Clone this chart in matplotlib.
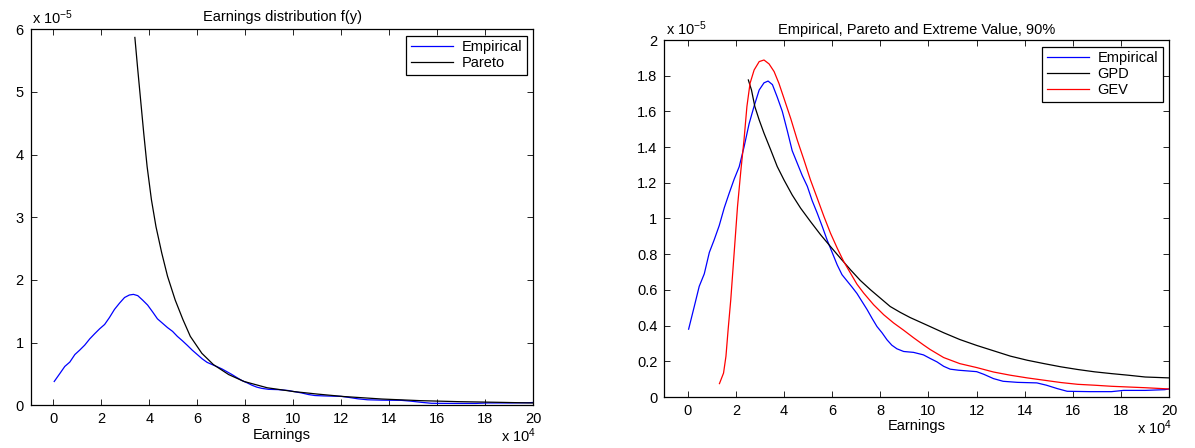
import numpy as np
import matplotlib
matplotlib.use("Agg")
import matplotlib.pyplot as plt
from matplotlib.ticker import FuncFormatter

plt.rcParams['font.family'] = ['Liberation Sans', 'DejaVu Sans']
plt.rcParams['mathtext.fontset'] = 'custom'
plt.rcParams['mathtext.rm'] = 'Liberation Sans'
plt.rcParams['mathtext.it'] = 'Liberation Sans:italic'

# x in units of 1e4, y in units of 1e-5
emp_x = [0.04, 0.28, 0.48, 0.69, 0.9, 1.1, 1.31, 1.52, 1.72, 1.93, 2.14, 2.34, 2.55,
         2.76, 2.97, 3.17, 3.34, 3.52, 3.72, 3.93, 4.14, 4.34, 4.55, 4.76, 4.97, 5.17,
         5.38, 5.59, 5.79, 6.0, 6.21, 6.41, 6.62, 6.83, 7.03, 7.24, 7.45, 7.66, 7.86,
         8.07, 8.28, 8.48, 8.69, 8.97, 9.38, 9.79, 10.07, 10.35, 10.63, 10.9, 11.25,
         12.0, 12.3, 12.7, 13.1, 13.7, 14.5, 14.9, 15.35, 15.76, 16.7, 17.6, 18.1,
         19.0, 19.8, 20.0]
emp_y = [0.38, 0.51, 0.62, 0.69, 0.81, 0.88, 0.96, 1.06, 1.14, 1.22, 1.29, 1.40, 1.53,
         1.63, 1.72, 1.76, 1.77, 1.75, 1.68, 1.60, 1.49, 1.38, 1.31, 1.24, 1.18, 1.10,
         1.03, 0.955, 0.88, 0.81, 0.74, 0.685, 0.65, 0.615, 0.58, 0.535, 0.49, 0.44,
         0.395, 0.36, 0.32, 0.29, 0.27, 0.255, 0.25, 0.236, 0.216, 0.197, 0.172, 0.156,
         0.15, 0.142, 0.127, 0.103, 0.088, 0.082, 0.079, 0.066, 0.047, 0.032, 0.03,
         0.03, 0.037, 0.037, 0.041, 0.045]

pareto_x = [3.40, 3.51, 3.64, 3.77, 3.91, 4.09, 4.28, 4.52, 4.76, 5.08, 5.4, 5.71,
            6.19, 6.67, 7.31, 7.95, 8.91, 10.0, 10.98, 12.1, 13.7, 15.3, 16.9, 18.5, 20.0]
pareto_y = [5.87, 5.40, 4.87, 4.34, 3.81, 3.28, 2.85, 2.43, 2.06, 1.68, 1.37, 1.10,
            0.83, 0.65, 0.49, 0.38, 0.28, 0.22, 0.18, 0.14, 0.10, 0.074, 0.058, 0.048,
            0.037]

gpd_x = [2.52, 2.65, 2.79, 2.97, 3.17, 3.45, 3.72, 4.0, 4.34, 4.69, 5.1, 5.52, 5.93,
         6.34, 6.76, 7.17, 7.59, 8.0, 8.41, 8.83, 9.24, 9.93, 10.63, 11.3, 12.0, 12.7,
         13.4, 14.1, 14.8, 15.5, 16.2, 16.9, 17.6, 18.3, 19.0, 20.0]
gpd_y = [1.776, 1.72, 1.627, 1.552, 1.478, 1.384, 1.291, 1.216, 1.132, 1.058, 0.983,
         0.909, 0.843, 0.778, 0.713, 0.653, 0.601, 0.554, 0.507, 0.474, 0.445, 0.403,
         0.36, 0.322, 0.289, 0.259, 0.229, 0.206, 0.187, 0.169, 0.154, 0.141, 0.131,
         0.122, 0.112, 0.107]

gev_x = [1.32, 1.49, 1.59, 1.68, 1.79, 1.93, 2.07, 2.21, 2.34, 2.46, 2.59, 2.76, 2.97,
         3.17, 3.38, 3.59, 3.79, 4.0, 4.28, 4.55, 4.83, 5.1, 5.38, 5.66, 5.93, 6.21,
         6.48, 6.76, 7.03, 7.31, 7.72, 8.14, 8.55, 8.97, 9.38, 9.79, 10.07, 10.63,
         11.3, 12.0, 12.7, 13.4, 14.1, 14.8, 15.5, 16.2, 16.9, 17.6, 18.3, 19.0, 20.0]
gev_y = [0.075, 0.134, 0.228, 0.377, 0.545, 0.806, 1.067, 1.27, 1.44, 1.627, 1.757,
         1.832, 1.879, 1.888, 1.866, 1.823, 1.757, 1.673, 1.56, 1.44, 1.328, 1.216,
         1.114, 1.011, 0.918, 0.834, 0.759, 0.694, 0.632, 0.582, 0.517, 0.461, 0.415,
         0.374, 0.332, 0.292, 0.266, 0.221, 0.187, 0.165, 0.14, 0.122, 0.107, 0.094,
         0.081, 0.071, 0.066, 0.06, 0.056, 0.052, 0.045]

fs = 10.5
W, H = 1195, 448
fig = plt.figure(figsize=(W / 100, H / 100), dpi=100)

ax1 = fig.add_axes([30.7 / W, (H - 405.3) / H, 502.6 / W, 376 / H])
ax2 = fig.add_axes([664.3 / W, (H - 397) / H, 505 / W, 357 / H])

fmt = FuncFormatter(lambda v, p: '%g' % round(v, 6))


def style(ax, xmin, ylim, yticks, exp_y):
    ax.set_xlim(xmin, 20)
    ax.set_ylim(*ylim)
    ax.set_xticks(np.arange(0, 21, 2))
    ax.set_yticks(yticks)
    ax.yaxis.set_major_formatter(fmt)
    ax.tick_params(direction='in', top=True, right=True, length=4, width=0.6,
                   labelsize=fs, pad=5)
    for s in ax.spines.values():
        s.set_linewidth(0.9)
    ax.set_xlabel('Earnings', fontsize=fs, labelpad=1)
    ax.text(0.003, 1.005, r'x 10$^{-5}$', transform=ax.transAxes, fontsize=fs,
            ha='left', va='bottom')
    ax.text(1.005, exp_y, r'x 10$^{4}$', transform=ax.transAxes, fontsize=fs,
            ha='right', va='center')


def add_legend(ax):
    leg = ax.legend(loc='upper right', fontsize=fs, fancybox=False, framealpha=1,
                    edgecolor='black', handlelength=2.9, borderaxespad=0.45,
                    handletextpad=0.6, borderpad=0.3, labelspacing=0.15)
    leg.get_frame().set_linewidth(0.9)


# left panel
ax1.plot(emp_x, emp_y, color='blue', lw=0.9, label='Empirical')
ax1.plot(pareto_x, pareto_y, color='black', lw=0.9, label='Pareto')
style(ax1, -0.94, (0, 6), np.arange(0, 7, 1), -0.082)
ax1.set_title('Earnings distribution f(y)', fontsize=fs, pad=6)
add_legend(ax1)

# right panel
ax2.plot(emp_x, emp_y, color='blue', lw=0.9, label='Empirical')
ax2.plot(gpd_x, gpd_y, color='black', lw=0.9, label='GPD')
ax2.plot(gev_x, gev_y, color='red', lw=0.9, label='GEV')
style(ax2, -0.97, (0, 2), np.arange(0, 2.01, 0.2), -0.085)
ax2.set_title('Empirical, Pareto and Extreme Value, 90%', fontsize=fs, pad=4)
add_legend(ax2)

fig.savefig('out.png', dpi=100)
